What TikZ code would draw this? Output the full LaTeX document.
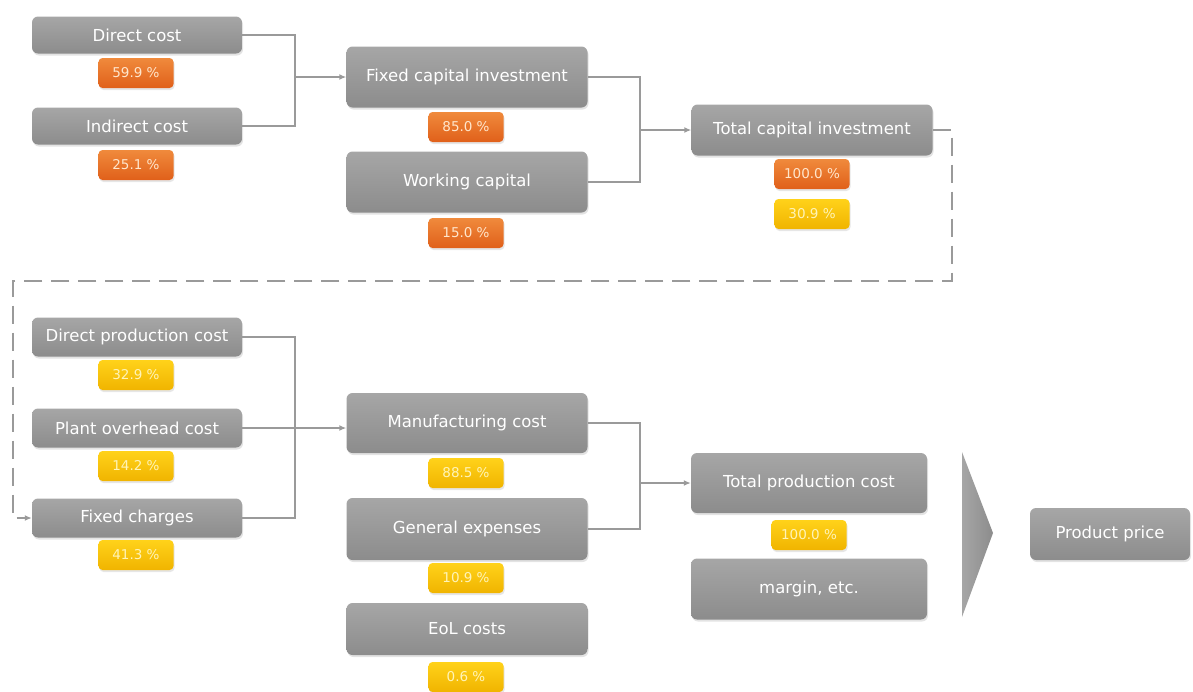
\documentclass[tikz,border=0pt]{standalone}
\usepackage{fontspec}
\setmainfont{DejaVu Sans}
\usetikzlibrary{arrows.meta,shadows}
\definecolor{boxtop}{HTML}{A6A6A6}
\definecolor{boxbot}{HTML}{8C8C8C}
\definecolor{ortop}{HTML}{F08A3C}
\definecolor{orbot}{HTML}{E0601A}
\definecolor{ortext}{HTML}{FFE6CC}
\definecolor{yetop}{HTML}{FFD21A}
\definecolor{yebot}{HTML}{F0B400}
\definecolor{yetext}{HTML}{FFF4B8}
\definecolor{lincol}{HTML}{9A9A9A}
\tikzset{
  gbox/.style={rounded corners=6pt, top color=boxtop, bottom color=boxbot, draw=none,
    text=white, font=\fontsize{16.5}{19}\selectfont, inner sep=0pt,
    drop shadow={opacity=0.22, shadow xshift=1pt, shadow yshift=-2pt}},
  obadge/.style={rounded corners=4pt, top color=ortop, bottom color=orbot, draw=none,
    text=ortext, font=\fontsize{13.5}{15}\selectfont, minimum width=75pt, minimum height=30pt, inner sep=0pt,
    drop shadow={opacity=0.2, shadow xshift=1pt, shadow yshift=-2pt}},
  ybadge/.style={obadge, top color=yetop, bottom color=yebot, text=yetext},
  conn/.style={draw=lincol, line width=2pt},
  connarr/.style={conn, -{Latex[length=7pt,width=6pt]}},
  dashconn/.style={draw=lincol, line width=2.5pt, dash pattern=on 18pt off 9pt, -{Latex[length=7pt,width=6pt]}}
}
\begin{document}
\begin{tikzpicture}[x=1pt,y=-1pt]
\useasboundingbox (0,0) rectangle (1193,691);
% top row
\node[gbox, minimum width=210pt, minimum height=37pt] (dc) at (137,35) {Direct cost};
\node[obadge] (dcp) at (136,73) {59.9 \%};
\node[gbox, minimum width=210pt, minimum height=37pt] (ic) at (137,126) {Indirect cost};
\node[obadge] (icp) at (136,165) {25.1 \%};
\node[gbox, minimum width=241pt, minimum height=61pt] (fci) at (467,77) {Fixed capital investment};
\node[obadge] (fcip) at (466,127) {85.0 \%};
\node[gbox, minimum width=241pt, minimum height=61pt] (wc) at (467,182) {Working capital};
\node[obadge] (wcp) at (466,233) {15.0 \%};
\node[gbox, minimum width=241pt, minimum height=51pt] (tci) at (812,130) {Total capital investment};
\node[obadge] (tcip) at (812,174) {100.0 \%};
\node[ybadge] (tcip2) at (812,214) {30.9 \%};
% bottom row
\node[gbox, minimum width=210pt, minimum height=39pt] (dpc) at (137,337) {Direct production cost};
\node[ybadge] (dpcp) at (136,375) {32.9 \%};
\node[gbox, minimum width=210pt, minimum height=39pt] (poc) at (137,428) {Plant overhead cost};
\node[ybadge] (pocp) at (136,466) {14.2 \%};
\node[gbox, minimum width=210pt, minimum height=39pt] (fc) at (137,518) {Fixed charges};
\node[ybadge] (fcp) at (136,555) {41.3 \%};
\node[gbox, minimum width=241pt, minimum height=60pt] (mc) at (467,423) {Manufacturing cost};
\node[ybadge] (mcp) at (466,473) {88.5 \%};
\node[gbox, minimum width=241pt, minimum height=62pt] (ge) at (467,529) {General expenses};
\node[ybadge] (gep) at (466,578) {10.9 \%};
\node[gbox, minimum width=241pt, minimum height=52pt] (eol) at (467,629) {EoL costs};
\node[ybadge] (eolp) at (466,677) {0.6 \%};
\node[gbox, minimum width=236pt, minimum height=60pt] (tpc) at (809,483) {Total production cost};
\node[ybadge] (tpcp) at (809,535) {100.0 \%};
\node[gbox, minimum width=236pt, minimum height=61pt] (mar) at (809,589) {margin, etc.};
\node[gbox, minimum width=160pt, minimum height=52pt] (pp) at (1110,534) {Product price};
% big arrow
\path[left color=boxtop, right color=boxbot, draw=none] (962,452) -- (993,533) -- (962,617) -- cycle;
% connectors top
\coordinate (j1) at (295,77);
\draw[conn] (dc.east) -| (j1);
\draw[conn] (ic.east) -| (j1);
\draw[connarr] (j1) -- (j1 -| fci.west);
\coordinate (j2) at (640,130);
\draw[conn] (fci.east) -| (j2);
\draw[conn] (wc.east) -| (j2);
\draw[connarr] (j2) -- (j2 -| tci.west);
% dashed link
\coordinate (d1) at (952,130);
\coordinate (d2) at (952,281);
\coordinate (d3) at (13,281);
\coordinate (d4) at (13,518);
\draw[dashconn] (tci.east) -- (d1) -- (d2) -- (d3) -- (d4) -- (fc.west);
% connectors bottom
\coordinate (j3) at (295,428);
\draw[conn] (dpc.east) -| (j3);
\draw[conn] (fc.east) -| (j3);
\draw[connarr] (poc.east) -- (j3 -| mc.west);
\coordinate (j4) at (640,483);
\draw[conn] (mc.east) -| (j4);
\draw[conn] (ge.east) -| (j4);
\draw[connarr] (j4) -- (j4 -| tpc.west);
\end{tikzpicture}
\end{document}
